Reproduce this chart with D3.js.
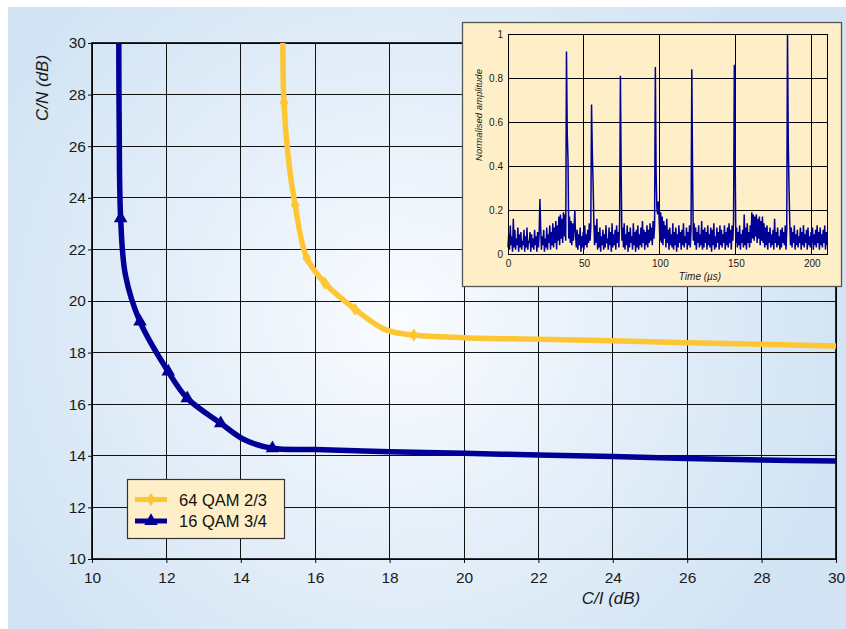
<!DOCTYPE html>
<html>
<head>
<meta charset="utf-8">
<script src="https://cdn.jsdelivr.net/npm/d3@7"></script>
<style>
body{margin:0;background:#fff;}
svg{display:block;font-family:"Liberation Sans",Arial,sans-serif;}
</style>
</head>
<body>
<div id="chart"></div>
<script>
// main chart: required C/N against C/I for two DVB-T modes
var ciTicks = [10, 12, 14, 16, 18, 20, 22, 24, 26, 28, 30];
var cnTicks = [10, 12, 14, 16, 18, 20, 22, 24, 26, 28, 30];
var seriesNames = ["64 QAM 2/3", "16 QAM 3/4"];

var qam64CI = [15.13, 15.16, 15.28, 15.46, 15.77, 16.26, 17.07, 17.9, 18.65, 20, 22, 24, 26, 28, 30];
var qam64CN = [30, 27.69, 25.5, 23.72, 21.68, 20.69, 19.68, 18.88, 18.68, 18.58, 18.52, 18.46, 18.38, 18.32, 18.26];
var qam64MarkCI = [15.16, 15.46, 15.77, 16.26, 17.07, 18.65];
var qam64MarkCN = [27.69, 23.72, 21.68, 20.69, 19.68, 18.68];

var qam16CI = [10.72, 10.73, 10.77, 10.9, 11.29, 12.05, 12.56, 13.46, 14.1, 14.85, 16, 18, 20, 22, 24, 26, 28, 30];
var qam16CN = [30, 27, 23.2, 21.0, 19.2, 17.26, 16.23, 15.26, 14.62, 14.29, 14.24, 14.16, 14.1, 14.03, 13.97, 13.9, 13.84, 13.8];
var qam16MarkCI = [10.77, 11.29, 12.05, 12.56, 13.46, 14.85];
var qam16MarkCN = [23.2, 19.2, 17.26, 16.23, 15.26, 14.29];

// inset: impulse response, one sample every 0.5 us from 0 to 210 us
var timeTicks = [0, 50, 100, 150, 200];
var ampTicks = [0, 0.2, 0.4, 0.6, 0.8, 1];
var sampleStep = 0.5;
var amplitude = [
  0.03,0.09,0.02,0.13,0.04,0.08,0.01,0.16,0.03,0.11,0.02,0.07,0.04,0.12,0.01,0.09,0.03,0.10,0.02,0.06,
  0.04,0.11,0.01,0.08,0.03,0.12,0.02,0.06,0.05,0.10,0.01,0.09,0.03,0.07,0.02,0.11,0.04,0.08,0.01,0.10,
  0.03,0.09,0.25,0.12,0.02,0.08,0.04,0.11,0.01,0.07,0.03,0.12,0.02,0.09,0.05,0.13,0.02,0.10,0.04,0.14,
  0.03,0.12,0.05,0.15,0.02,0.13,0.06,0.17,0.04,0.18,0.07,0.16,0.05,0.19,0.08,0.18,0.06,0.92,0.55,0.43,
  0.07,0.17,0.05,0.15,0.04,0.14,0.06,0.12,0.20,0.08,0.03,0.11,0.02,0.09,0.04,0.12,0.01,0.08,0.03,0.10,
  0.02,0.13,0.04,0.09,0.03,0.11,0.05,0.14,0.06,0.12,0.68,0.46,0.33,0.15,0.04,0.13,0.05,0.16,0.02,0.10,
  0.03,0.12,0.01,0.08,0.04,0.11,0.02,0.09,0.03,0.13,0.05,0.07,0.02,0.12,0.04,0.10,0.01,0.14,0.03,0.09,
  0.04,0.11,0.02,0.13,0.05,0.10,0.03,0.15,0.81,0.37,0.06,0.12,0.03,0.14,0.02,0.09,0.04,0.13,0.01,0.10,
  0.03,0.12,0.05,0.08,0.02,0.14,0.04,0.10,0.01,0.11,0.03,0.13,0.02,0.09,0.04,0.12,0.03,0.15,0.05,0.11,
  0.02,0.10,0.04,0.13,0.03,0.11,0.05,0.14,0.06,0.12,0.04,0.15,0.07,0.13,0.85,0.37,0.21,0.18,0.24,0.16,
  0.06,0.19,0.05,0.17,0.04,0.15,0.07,0.13,0.03,0.16,0.05,0.11,0.02,0.12,0.04,0.09,0.03,0.14,0.02,0.10,
  0.04,0.12,0.01,0.09,0.03,0.13,0.05,0.10,0.02,0.11,0.04,0.14,0.03,0.08,0.05,0.12,0.02,0.10,0.04,0.13,
  0.03,0.11,0.84,0.38,0.06,0.14,0.04,0.12,0.02,0.10,0.05,0.13,0.03,0.09,0.04,0.15,0.02,0.11,0.03,0.12,
  0.05,0.10,0.02,0.13,0.04,0.09,0.03,0.12,0.01,0.11,0.04,0.14,0.02,0.08,0.03,0.12,0.05,0.10,0.02,0.13,
  0.04,0.11,0.03,0.09,0.05,0.13,0.02,0.10,0.04,0.12,0.03,0.14,0.05,0.11,0.02,0.13,0.06,0.15,0.86,0.45,
  0.05,0.12,0.03,0.10,0.04,0.13,0.02,0.09,0.05,0.11,0.03,0.18,0.04,0.12,0.02,0.14,0.05,0.10,0.03,0.13,
  0.05,0.19,0.07,0.18,0.06,0.17,0.08,0.18,0.05,0.16,0.07,0.17,0.04,0.15,0.06,0.17,0.05,0.14,0.03,0.12,
  0.04,0.13,0.02,0.10,0.05,0.12,0.03,0.09,0.04,0.11,0.02,0.16,0.05,0.10,0.03,0.12,0.04,0.08,0.02,0.11,
  0.03,0.12,0.05,0.10,0.04,0.13,0.02,0.11,1.00,0.51,0.30,0.14,0.04,0.12,0.03,0.10,0.05,0.13,0.02,0.09,
  0.04,0.11,0.03,0.08,0.05,0.12,0.02,0.10,0.04,0.13,0.03,0.09,0.05,0.11,0.02,0.12,0.04,0.08,0.03,0.10,
  0.05,0.12,0.02,0.09,0.04,0.11,0.03,0.13,0.05,0.10,0.02,0.12,0.04,0.09,0.03,0.11,0.05,0.13,0.02,0.10,
  0.04
];

var yellow = "#FFC634";
var navy = "#000096";
var cream = "#FFEFC9";

var svg = d3.select("#chart").append("svg")
    .attr("width", 846)
    .attr("height", 629)

var grad = svg.append("defs").append("radialGradient")
    .attr("id", "bg")
    .attr("gradientUnits", "userSpaceOnUse")
    .attr("cx", 400).attr("cy", 320).attr("r", 450)
grad.append("stop").attr("offset", 0).attr("stop-color", "#FAFCFF")
grad.append("stop").attr("offset", 0.5).attr("stop-color", "#E5EFF9")
grad.append("stop").attr("offset", 1).attr("stop-color", "#D2E4F4")

svg.append("rect")
    .attr("x", 8).attr("y", 7)
    .attr("width", 838).attr("height", 622)
    .attr("fill", "url(#bg)")

var x = d3.scaleLinear().domain([10, 30]).range([92, 836]);
var y = d3.scaleLinear().domain([10, 30]).range([559, 43]);

//grid
var grid = svg.append("g").attr("shape-rendering", "crispEdges")
grid.selectAll(".vg").data(ciTicks).enter().append("line")
    .attr("x1", function(d){ return x(d) }).attr("x2", function(d){ return x(d) })
    .attr("y1", y(10)).attr("y2", y(30))
    .attr("stroke", "#111").attr("stroke-width", 1)
grid.selectAll(".hg").data(cnTicks).enter().append("line")
    .attr("y1", function(d){ return y(d) }).attr("y2", function(d){ return y(d) })
    .attr("x1", x(10)).attr("x2", x(30))
    .attr("stroke", "#111").attr("stroke-width", 1)

// axes
var xAxis = svg.append("g")
    .attr("transform", "translate(0," + y(10) + ")")
    .call(d3.axisBottom(x).tickValues(ciTicks).tickSize(4).tickSizeOuter(0).tickPadding(9))
var yAxis = svg.append("g")
    .attr("transform", "translate(" + x(10) + ",0)")
    .call(d3.axisLeft(y).tickValues(cnTicks).tickSize(4).tickSizeOuter(0).tickPadding(2))
svg.selectAll(".tick text").attr("font-size", 15.5).attr("fill", "#1a1a1a").attr("font-family", "Liberation Sans, Arial, sans-serif")
svg.selectAll(".tick line").attr("stroke", "#111")
svg.selectAll(".domain").remove()

svg.append("rect")
    .attr("x", x(10)).attr("y", y(30))
    .attr("width", x(30) - x(10)).attr("height", y(10) - y(30))
    .attr("fill", "none").attr("stroke", "#000").attr("stroke-width", 1.6)

svg.append("text")
    .attr("transform", "translate(48,88) rotate(-90)")
    .attr("text-anchor", "middle")
    .attr("font-size", 17).attr("font-style", "italic").attr("fill", "#1a1a1a")
    .text("C/N (dB)")
svg.append("text")
    .attr("x", 611).attr("y", 604)
    .attr("text-anchor", "middle")
    .attr("font-size", 17).attr("font-style", "italic").attr("fill", "#1a1a1a")
    .text("C/I (dB)")

// curves
var line = d3.line()
    .x(function(d){ return x(d[0]) })
    .y(function(d){ return y(d[1]) })
    .curve(d3.curveCatmullRom.alpha(0.5))

var diamond = "M0,-6.5L4.5,0L0,6.5L-4.5,0Z";
var triangle = d3.symbol().type(d3.symbolTriangle).size(80)();

function drawSeries(ci, cn, markCI, markCN, color, shape){
    svg.append("path")
        .datum(d3.zip(ci, cn))
        .attr("d", line)
        .attr("fill", "none")
        .attr("stroke", color)
        .attr("stroke-width", 5.5)
        .attr("stroke-linejoin", "round")
    svg.append("g").selectAll("path").data(d3.zip(markCI, markCN)).enter().append("path")
        .attr("transform", function(d){ return "translate(" + x(d[0]) + "," + y(d[1]) + ")" })
        .attr("d", shape)
        .attr("fill", color)
}
drawSeries(qam64CI, qam64CN, qam64MarkCI, qam64MarkCN, yellow, diamond)
drawSeries(qam16CI, qam16CN, qam16MarkCI, qam16MarkCN, navy, triangle)

// legend
var legend = svg.append("g")
legend.append("rect")
    .attr("x", 127.5).attr("y", 479.5).attr("width", 157).attr("height", 59)
    .attr("fill", cream).attr("stroke", "#333").attr("stroke-width", 1.2)
var legColors = [yellow, navy];
var legShapes = [diamond, triangle];
seriesNames.forEach(function(name, i){
    var ly = 499.5 + i * 21.5;
    legend.append("line")
        .attr("x1", 135).attr("x2", 167).attr("y1", ly).attr("y2", ly)
        .attr("stroke", legColors[i]).attr("stroke-width", 5)
    legend.append("path")
        .attr("transform", "translate(151," + ly + ")")
        .attr("d", legShapes[i]).attr("fill", legColors[i])
    legend.append("text")
        .attr("x", 179).attr("y", ly + 6)
        .attr("font-size", 16.5).attr("fill", "#111")
        .text(name)
})

// inset with the echo profile
var inset = svg.append("g")
inset.append("rect")
    .attr("x", 462.5).attr("y", 22.5).attr("width", 379).attr("height", 264)
    .attr("fill", cream).attr("stroke", "#555").attr("stroke-width", 1.3)

var xi = d3.scaleLinear().domain([0, 210]).range([508, 827]);
var yi = d3.scaleLinear().domain([0, 1]).range([254, 34]);

var igrid = inset.append("g").attr("shape-rendering", "crispEdges")
igrid.selectAll(".v").data(timeTicks.slice(1)).enter().append("line")
    .attr("x1", function(d){ return xi(d) }).attr("x2", function(d){ return xi(d) })
    .attr("y1", yi(0)).attr("y2", yi(1))
    .attr("stroke", "#000").attr("stroke-width", 1)
igrid.selectAll(".h").data(ampTicks.slice(1)).enter().append("line")
    .attr("y1", function(d){ return yi(d) }).attr("y2", function(d){ return yi(d) })
    .attr("x1", xi(0)).attr("x2", xi(210))
    .attr("stroke", "#000").attr("stroke-width", 1)

var sampleTimes = amplitude.map(function(d, i){ return i * sampleStep });
var sigLine = d3.line()
    .x(function(d){ return xi(d[0]) })
    .y(function(d){ return yi(d[1]) })
inset.append("path")
    .datum(d3.zip(sampleTimes, amplitude))
    .attr("d", sigLine)
    .attr("fill", "none")
    .attr("stroke", navy)
    .attr("stroke-width", 1.5)
    .attr("stroke-linejoin", "bevel")

inset.append("rect")
    .attr("x", xi(0)).attr("y", yi(1))
    .attr("width", xi(210) - xi(0)).attr("height", yi(0) - yi(1))
    .attr("fill", "none").attr("stroke", "#000").attr("stroke-width", 1)
    .attr("shape-rendering", "crispEdges")

var ixAxis = inset.append("g")
    .attr("transform", "translate(0," + yi(0) + ")")
    .call(d3.axisBottom(xi).tickValues(timeTicks).tickSize(0).tickPadding(6))
var iyAxis = inset.append("g")
    .attr("transform", "translate(" + xi(0) + ",0)")
    .call(d3.axisLeft(yi).tickValues(ampTicks).tickFormat(d3.format("")).tickSize(0).tickPadding(5))
inset.selectAll(".domain").remove()
inset.selectAll(".tick text").attr("font-size", 10).attr("fill", "#1a1a1a")

inset.append("text")
    .attr("transform", "translate(482,115) rotate(-90)")
    .attr("text-anchor", "middle")
    .attr("font-size", 9.5).attr("font-style", "italic").attr("fill", "#1a1a1a")
    .text("Normalised amplitude")
inset.append("text")
    .attr("x", 700).attr("y", 280)
    .attr("text-anchor", "middle")
    .attr("font-size", 10).attr("font-style", "italic").attr("fill", "#1a1a1a")
    .text("Time (µs)")
</script>
</body>
</html>
